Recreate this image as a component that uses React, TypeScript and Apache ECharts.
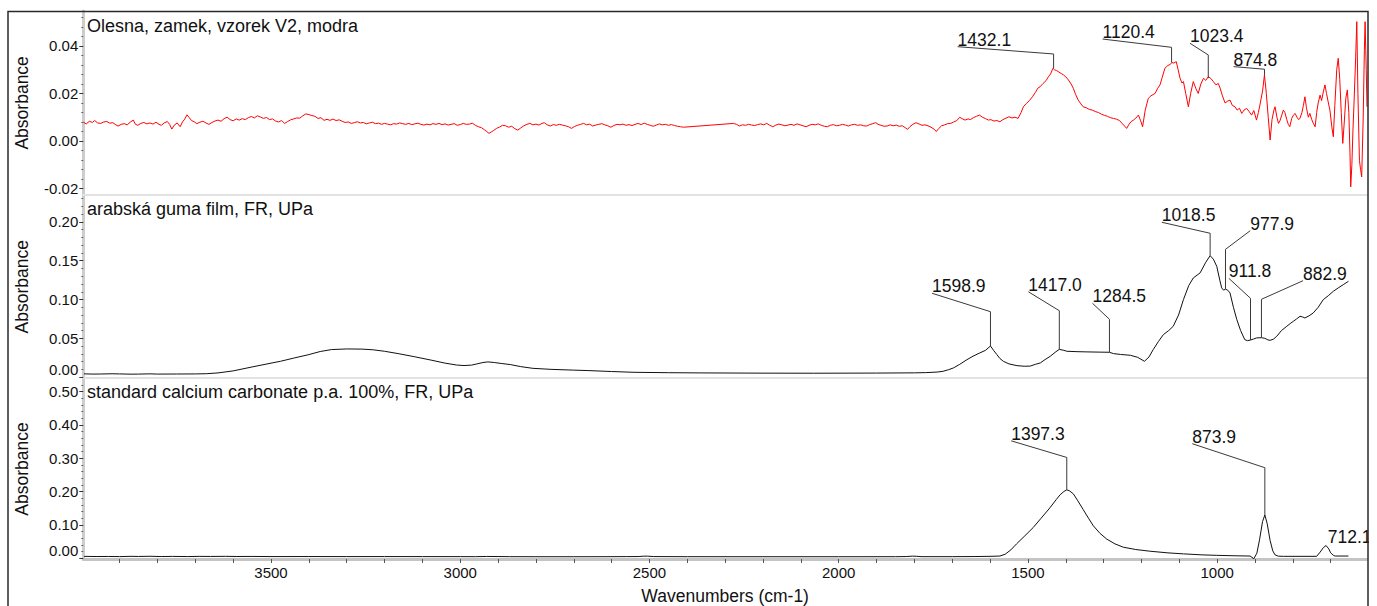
import React, { useEffect, useRef } from 'react';
import * as echarts from 'echarts';

const FONT = '"Liberation Sans", Arial, sans-serif';

const panelTitles = [
  'Olesna, zamek, vzorek V2, modra',
  'arabská guma film, FR, UPa',
  'standard calcium carbonate p.a. 100%, FR, UPa',
];
const yAxisName = 'Absorbance';
const xAxisName = 'Wavenumbers (cm-1)';

const xRange = [604, 3996];
const xLabelTicks = [1000, 1500, 2000, 2500, 3000, 3500];
const xAllTicks = [700, 800, 900, 1000, 1100, 1200, 1300, 1400, 1500, 1600, 1700, 1800, 1900, 2000, 2100, 2200, 2300, 2400, 2500, 2600, 2700, 2800, 2900, 3000, 3100, 3200, 3300, 3400, 3500, 3600, 3700, 3800, 3900];

const yTicks1 = [-0.02, 0, 0.02, 0.04];
const yTicks2 = [0, 0.05, 0.1, 0.15, 0.2];
const yTicks3 = [0, 0.1, 0.2, 0.3, 0.4, 0.5];
const yRange1 = [-0.0226, 0.0547];
const yRange2 = [-0.0005, 0.2334];
const yRange3 = [-0.0024, 0.5374];
const yMinorStep = [0.004, 0.01, 0.02];

// Sample spectrum (red) [wavenumber, absorbance]
const spectrumV2 = [
  [3996, 0.0079], [3988, 0.0072], [3980, 0.0083], [3972, 0.0078], [3966, 0.0086], [3958, 0.0076], [3950, 0.0074], [3942, 0.008], [3934, 0.0082], [3926, 0.0075],
  [3918, 0.0077], [3910, 0.0068], [3904, 0.0063], [3896, 0.007], [3888, 0.0073], [3880, 0.0068], [3872, 0.0079], [3864, 0.0088], [3858, 0.007], [3852, 0.0066],
  [3844, 0.0074], [3836, 0.0078], [3828, 0.0072], [3820, 0.0076], [3812, 0.0071], [3804, 0.0079], [3796, 0.007], [3790, 0.0066], [3782, 0.0076], [3774, 0.0082],
  [3768, 0.007], [3762, 0.005], [3756, 0.0066], [3748, 0.0076], [3740, 0.006], [3734, 0.008], [3728, 0.0092], [3722, 0.011], [3716, 0.0098], [3710, 0.0086],
  [3702, 0.008], [3696, 0.0073], [3688, 0.0079], [3680, 0.0083], [3672, 0.0076], [3664, 0.007], [3656, 0.0078], [3648, 0.0084], [3640, 0.0088], [3632, 0.0083],
  [3624, 0.0094], [3616, 0.01], [3608, 0.009], [3600, 0.0085], [3592, 0.0093], [3584, 0.0088], [3576, 0.0094], [3568, 0.009], [3560, 0.0098], [3552, 0.0103],
  [3544, 0.0097], [3536, 0.0106], [3528, 0.0101], [3520, 0.0095], [3512, 0.0099], [3504, 0.009], [3496, 0.0093], [3488, 0.0084], [3480, 0.008], [3472, 0.0086],
  [3464, 0.0074], [3456, 0.0082], [3448, 0.0089], [3440, 0.0093], [3432, 0.0097], [3424, 0.0096], [3416, 0.0106], [3408, 0.0114], [3400, 0.0111], [3392, 0.0107],
  [3384, 0.0104], [3376, 0.0095], [3368, 0.0098], [3360, 0.0087], [3352, 0.0091], [3344, 0.0087], [3336, 0.0092], [3328, 0.0086], [3320, 0.0089], [3312, 0.0083],
  [3304, 0.0078], [3296, 0.008], [3288, 0.0074], [3280, 0.0077], [3272, 0.0081], [3264, 0.0076], [3256, 0.0078], [3248, 0.0072], [3240, 0.0076], [3232, 0.0079],
  [3224, 0.0073], [3216, 0.0075], [3208, 0.007], [3200, 0.0074], [3192, 0.0071], [3184, 0.0068], [3176, 0.0073], [3168, 0.0071], [3160, 0.0076], [3152, 0.0073],
  [3144, 0.007], [3136, 0.0074], [3128, 0.0069], [3120, 0.0072], [3112, 0.0075], [3104, 0.007], [3096, 0.0067], [3088, 0.0071], [3080, 0.0068], [3072, 0.0073],
  [3064, 0.007], [3056, 0.0074], [3048, 0.0069], [3040, 0.0072], [3032, 0.0067], [3024, 0.007], [3016, 0.0073], [3008, 0.0066], [3000, 0.0069], [2992, 0.0074],
  [2984, 0.007], [2976, 0.0071], [2968, 0.0075], [2960, 0.0066], [2952, 0.006], [2944, 0.0056], [2936, 0.0047], [2930, 0.004], [2924, 0.0032], [2918, 0.0038],
  [2912, 0.0044], [2904, 0.0053], [2896, 0.0059], [2888, 0.0066], [2880, 0.0064], [2872, 0.0058], [2864, 0.0062], [2856, 0.0052], [2848, 0.0046], [2840, 0.0055],
  [2832, 0.0064], [2824, 0.007], [2816, 0.0074], [2808, 0.0068], [2800, 0.0071], [2792, 0.0067], [2784, 0.0074], [2778, 0.0077], [2770, 0.0068], [2762, 0.0063],
  [2754, 0.0069], [2746, 0.0066], [2738, 0.007], [2730, 0.0067], [2722, 0.0064], [2714, 0.006], [2706, 0.0053], [2698, 0.0061], [2690, 0.0066], [2682, 0.007],
  [2674, 0.0074], [2666, 0.0068], [2658, 0.0071], [2650, 0.0063], [2642, 0.0067], [2634, 0.007], [2626, 0.0073], [2618, 0.0068], [2610, 0.0064], [2602, 0.0058],
  [2594, 0.0065], [2586, 0.007], [2578, 0.0068], [2570, 0.0071], [2562, 0.0066], [2554, 0.0069], [2546, 0.0065], [2538, 0.007], [2530, 0.0074], [2522, 0.0069],
  [2514, 0.0075], [2506, 0.007], [2498, 0.0066], [2490, 0.0062], [2482, 0.0067], [2474, 0.0072], [2466, 0.0068], [2458, 0.007], [2450, 0.0066], [2442, 0.0069],
  [2434, 0.0065], [2426, 0.0062], [2418, 0.006], [2410, 0.0058], [2278, 0.0074], [2270, 0.007], [2262, 0.0063], [2254, 0.0068], [2246, 0.0066], [2238, 0.007],
  [2230, 0.0067], [2222, 0.0065], [2214, 0.0069], [2206, 0.0072], [2198, 0.0068], [2190, 0.0074], [2182, 0.0066], [2174, 0.006], [2166, 0.0067], [2158, 0.0071],
  [2150, 0.0068], [2142, 0.0064], [2134, 0.0067], [2126, 0.007], [2118, 0.0066], [2110, 0.0072], [2102, 0.0068], [2094, 0.0064], [2086, 0.006], [2078, 0.0066],
  [2070, 0.007], [2062, 0.0068], [2054, 0.0072], [2046, 0.0066], [2038, 0.0062], [2030, 0.006], [2022, 0.0066], [2014, 0.0069], [2006, 0.0064], [1998, 0.0066],
  [1990, 0.007], [1982, 0.0067], [1974, 0.0063], [1966, 0.0068], [1958, 0.007], [1950, 0.0066], [1942, 0.0068], [1934, 0.0064], [1926, 0.0063], [1918, 0.0069],
  [1910, 0.0073], [1902, 0.0077], [1896, 0.007], [1888, 0.0066], [1880, 0.0062], [1872, 0.0063], [1864, 0.0068], [1856, 0.0064], [1848, 0.0067], [1840, 0.0062],
  [1832, 0.0064], [1824, 0.0056], [1818, 0.0049], [1812, 0.006], [1804, 0.007], [1796, 0.0077], [1788, 0.0072], [1780, 0.0066], [1772, 0.0068], [1764, 0.0064],
  [1756, 0.0058], [1748, 0.005], [1742, 0.004], [1736, 0.0052], [1728, 0.0064], [1720, 0.0068], [1712, 0.0073], [1704, 0.0074], [1696, 0.008], [1688, 0.0086],
  [1680, 0.01], [1674, 0.0094], [1666, 0.0088], [1658, 0.0093], [1652, 0.009], [1644, 0.0098], [1636, 0.0104], [1628, 0.0109], [1620, 0.01], [1612, 0.0094],
  [1604, 0.0088], [1598, 0.009], [1590, 0.0084], [1582, 0.0086], [1574, 0.0081], [1566, 0.009], [1558, 0.0096], [1550, 0.0102], [1542, 0.0097], [1534, 0.01],
  [1526, 0.0095], [1518, 0.012], [1512, 0.0144], [1504, 0.0158], [1496, 0.017], [1488, 0.0186], [1480, 0.0205], [1474, 0.0222], [1468, 0.0228], [1460, 0.0242],
  [1452, 0.0254], [1446, 0.027], [1440, 0.0282], [1434, 0.0306], [1430, 0.03], [1424, 0.0296], [1418, 0.029], [1412, 0.0284], [1406, 0.0278], [1400, 0.027],
  [1393, 0.0257], [1386, 0.024], [1380, 0.0222], [1374, 0.0196], [1367, 0.0172], [1360, 0.0156], [1354, 0.0144], [1346, 0.014], [1338, 0.0133], [1330, 0.013],
  [1322, 0.0124], [1314, 0.012], [1306, 0.0113], [1298, 0.0108], [1290, 0.0104], [1282, 0.0098], [1274, 0.0095], [1266, 0.0092], [1258, 0.0086], [1250, 0.0072],
  [1244, 0.0062], [1239, 0.0053], [1233, 0.007], [1227, 0.0082], [1221, 0.0088], [1215, 0.0096], [1208, 0.0109], [1202, 0.0085], [1197, 0.006], [1190, 0.013],
  [1182, 0.0179], [1175, 0.019], [1164, 0.02], [1157, 0.0222], [1151, 0.0236], [1145, 0.0268], [1138, 0.0306], [1130, 0.0318], [1124, 0.0322], [1120, 0.033],
  [1114, 0.0328], [1108, 0.0334], [1103, 0.03], [1098, 0.0264], [1093, 0.0244], [1089, 0.025], [1083, 0.02], [1076, 0.0144], [1070, 0.02], [1063, 0.025],
  [1056, 0.022], [1050, 0.02], [1043, 0.024], [1036, 0.0264], [1030, 0.0255], [1023, 0.0271], [1016, 0.0262], [1010, 0.025], [1003, 0.0236], [997, 0.0242],
  [992, 0.0222], [986, 0.019], [979, 0.016], [972, 0.0168], [966, 0.0172], [960, 0.015], [953, 0.0144], [947, 0.013], [941, 0.0138], [935, 0.0116],
  [929, 0.013], [922, 0.0137], [916, 0.0125], [909, 0.0109], [903, 0.0128], [896, 0.0088], [891, 0.012], [887, 0.0151], [880, 0.021], [875, 0.0278],
  [870, 0.02], [865, 0.01], [860, 0.0004], [855, 0.009], [850, 0.013], [847, 0.0144], [842, 0.01], [838, 0.0074], [834, 0.0085], [829, 0.011],
  [825, 0.013], [821, 0.012], [816, 0.009], [812, 0.007], [808, 0.006], [803, 0.0095], [798, 0.011], [794, 0.0116], [789, 0.01], [785, 0.009],
  [781, 0.0095], [776, 0.012], [772, 0.015], [768, 0.0186], [764, 0.014], [759, 0.01], [755, 0.0116], [750, 0.009], [746, 0.0075], [741, 0.006],
  [737, 0.012], [733, 0.016], [728, 0.0193], [724, 0.017], [719, 0.021], [715, 0.0236], [711, 0.02], [706, 0.016], [702, 0.013], [697, 0.006],
  [693, 0.0018], [689, 0.015], [684, 0.03], [680, 0.0348], [676, 0.026], [672, 0.012], [668, -0.001], [664, 0.008], [660, 0.018], [656, 0.0215],
  [652, 0.012], [649, -0.005], [647, -0.0193], [644, -0.01], [641, 0.005], [638, 0.0172], [634, 0.035], [631, 0.0502], [628, 0.02], [624, -0.0081],
  [621, -0.012], [618, -0.0151], [614, 0.01], [611, 0.038], [609, 0.0502], [606, 0.03], [604, 0.0144],
];

// Gum arabic film (black)
const spectrumGum = [
  [3994, 0.0042], [3970, 0.0039], [3950, 0.004], [3920, 0.0043], [3900, 0.0041], [3870, 0.0038], [3850, 0.0039], [3820, 0.0042], [3800, 0.0039], [3750, 0.004],
  [3700, 0.0041], [3670, 0.0044], [3640, 0.0054], [3600, 0.008], [3550, 0.0131], [3500, 0.018], [3475, 0.0204], [3440, 0.0245], [3400, 0.029], [3370, 0.033],
  [3340, 0.0355], [3300, 0.0363], [3260, 0.0361], [3230, 0.0352], [3200, 0.0333], [3164, 0.0303], [3120, 0.0262], [3075, 0.0217], [3040, 0.018], [3010, 0.0156],
  [2990, 0.0149], [2970, 0.0155], [2956, 0.017], [2940, 0.0188], [2927, 0.0196], [2910, 0.0188], [2890, 0.0175], [2867, 0.0161], [2840, 0.0135], [2808, 0.0113],
  [2760, 0.01], [2700, 0.009], [2660, 0.0084], [2600, 0.0072], [2541, 0.0062], [2450, 0.0057], [2364, 0.0054], [2200, 0.0051], [2067, 0.005], [1900, 0.0052],
  [1800, 0.0055], [1770, 0.0058], [1740, 0.0065], [1724, 0.0075], [1710, 0.0095], [1697, 0.0118], [1680, 0.0165], [1661, 0.0225], [1645, 0.027], [1627, 0.0312],
  [1612, 0.0345], [1598.9, 0.0401], [1590, 0.034], [1582, 0.029], [1574, 0.024], [1565, 0.0204], [1550, 0.017], [1529, 0.0148], [1510, 0.014], [1494, 0.0142],
  [1480, 0.0165], [1467, 0.0183], [1455, 0.0225], [1441, 0.0268], [1428, 0.032], [1417, 0.0358], [1405, 0.0345], [1397, 0.0333], [1370, 0.0328], [1344, 0.0325],
  [1310, 0.0322], [1284.5, 0.032], [1274, 0.0303], [1255, 0.0292], [1229, 0.0281], [1210, 0.0255], [1192, 0.0204], [1180, 0.026], [1169, 0.0354], [1155, 0.046],
  [1142, 0.0548], [1128, 0.06], [1116, 0.0655], [1102, 0.08], [1089, 0.0999], [1075, 0.118], [1063, 0.1278], [1045, 0.1343], [1030, 0.148], [1018.5, 0.1565],
  [1010, 0.152], [1001, 0.1428], [993, 0.125], [988, 0.115], [983, 0.112], [977.9, 0.1135], [972, 0.112], [966, 0.1085], [957, 0.09], [948, 0.0741],
  [938, 0.06], [927, 0.0483], [920, 0.047], [911.8, 0.0478], [904, 0.049], [896, 0.0505], [882.9, 0.0508], [874, 0.05], [866, 0.048], [860, 0.0474],
  [851, 0.049], [842.5, 0.0526], [830, 0.06], [816, 0.0655], [807, 0.069], [798.7, 0.0719], [790, 0.075], [781, 0.0784], [774, 0.0775], [768, 0.0762],
  [757, 0.079], [746, 0.0827], [733, 0.09], [719.4, 0.0999], [706, 0.105], [693, 0.1106], [680, 0.115], [666.5, 0.1192], [653, 0.1235],
];

// Calcium carbonate standard (black)
const spectrumCaCO3 = [
  [3994, 0.0055], [3960, 0.005], [3930, 0.0052], [3900, 0.0048], [3870, 0.0056], [3850, 0.0052], [3820, 0.0058], [3790, 0.005], [3760, 0.0054], [3720, 0.0049],
  [3690, 0.0055], [3660, 0.0052], [3620, 0.0056], [3590, 0.0051], [3550, 0.0053], [3500, 0.0049], [3400, 0.005], [3300, 0.0048], [3200, 0.0049], [3100, 0.0048],
  [3000, 0.0047], [2960, 0.0046], [2930, 0.0052], [2900, 0.005], [2870, 0.0046], [2800, 0.0044], [2700, 0.0044], [2620, 0.0045], [2560, 0.0048], [2530, 0.005],
  [2515, 0.006], [2505, 0.0062], [2490, 0.0049], [2400, 0.0045], [2200, 0.0044], [2000, 0.0044], [1850, 0.0045], [1820, 0.005], [1805, 0.0062], [1795, 0.0058],
  [1780, 0.0046], [1700, 0.0046], [1640, 0.005], [1600, 0.0056], [1574, 0.0065], [1560, 0.012], [1545, 0.025], [1530, 0.043], [1510, 0.065], [1486, 0.092],
  [1465, 0.12], [1442, 0.151], [1425, 0.176], [1415, 0.19], [1405, 0.2], [1397.3, 0.205], [1390, 0.202], [1380, 0.193], [1368, 0.172], [1354, 0.146],
  [1340, 0.12], [1327, 0.097], [1310, 0.075], [1292, 0.0575], [1270, 0.043], [1248, 0.033], [1215, 0.026], [1178, 0.021], [1130, 0.016], [1089, 0.013],
  [1040, 0.01], [1001, 0.0086], [950, 0.0072], [913, 0.0065], [903, -0.0015], [895, 0.015], [888, 0.055], [880, 0.11], [873.9, 0.1295], [868, 0.105],
  [860, 0.053], [853, 0.022], [847, 0.01], [838, 0.006], [825, 0.0056], [737, 0.0056], [728, 0.018], [719, 0.032], [712.1, 0.038], [705, 0.028],
  [700, 0.016], [692, 0.008], [688, 0.0065], [653, 0.0065],
];

// Peak annotations [wavenumber, absorbance at peak]
const peaksV2 = [[1432.1, 0.0306], [1120.4, 0.0331], [1023.4, 0.0264], [874.8, 0.0278]];
const peaksGum = [[1598.9, 0.0401], [1417.0, 0.0358], [1284.5, 0.032], [1018.5, 0.1565], [977.9, 0.1135], [911.8, 0.0478], [882.9, 0.0508]];
const peaksCaCO3 = [[1397.3, 0.205], [873.9, 0.1295], [712.1, 0.038]];

// Leader layout in px relative to the peak: [vertical rise, label end dx, label end dy]
const LEADERS = [
  [[-14.3, -96, -21.6], [-15, -69, -23.3], [-23.3, -18.3, -35], [-5.7, -31, -8.3]],
  [[-34.3, -58.4, -52.7], [-38.6, -31, -57.6], [-33, -17, -49], [-22.4, -48.3, -33.4], [-39.7, 24.7, -58.3], [-41.7, -21.7, -61.7], [-38.4, 41.6, -57]],
  [[-32.4, -55.6, -49], [-47.3, -72.6, -71.3], [0, 1.7, -2]],
];

const GRIDS = [
  { left: 83.3, right: 10, top: 11, height: 183.7 },
  { left: 83.3, right: 10, top: 196, height: 181.5 },
  { left: 83.3, right: 10, top: 379, height: 183 },
];
const TITLE_Y = [25.5, 209.3, 392.3];

function minorTicks(range: number[], step: number, majors: number[]) {
  const out: number[] = [];
  const start = Math.ceil(range[0] / step - 1e-9);
  const end = Math.floor(range[1] / step + 1e-9);
  for (let k = start; k <= end; k++) {
    const v = +(k * step).toFixed(5);
    if (!majors.some((m) => Math.abs(m - v) < 1e-9)) out.push(v);
  }
  return out;
}

export default function App() {
  const ref = useRef<HTMLDivElement>(null);
  useEffect(() => {
    if (!ref.current) return;
    const chart = echarts.init(ref.current, null, { renderer: 'svg' });
    const spectra = [spectrumV2, spectrumGum, spectrumCaCO3];
    const colors = ['#ff0000', '#111111', '#111111'];
    const yTicks = [yTicks1, yTicks2, yTicks3];
    const yRanges = [yRange1, yRange2, yRange3];
    const peaks = [peaksV2, peaksGum, peaksCaCO3];

    const xAxis = [0, 1, 2].map((i) => ({
      type: 'value',
      gridIndex: i,
      min: xRange[0],
      max: xRange[1],
      inverse: true,
      axisLine: {
        show: true,
        onZero: false,
        lineStyle: i < 2 ? { color: '#e2e2e2', width: 2 } : { color: '#c4c4c4', width: 3 },
      },
      axisTick: i < 2 ? { show: false } : { show: true, length: 4, customValues: xAllTicks, lineStyle: { color: '#555' } },
      axisLabel: i < 2
        ? { show: false }
        : { show: true, customValues: xLabelTicks, formatter: (v: number) => String(Math.round(v)), fontSize: 15, color: '#111', margin: 6, fontFamily: FONT },
      splitLine: { show: false },
      name: i === 2 ? xAxisName : '',
      nameLocation: 'middle',
      nameGap: 28,
      nameTextStyle: { fontSize: 17.5, color: '#111', fontFamily: FONT },
    }));

    const mainY = [0, 1, 2].map((i) => ({
      type: 'value',
      gridIndex: i,
      position: 'left',
      min: yRanges[i][0],
      max: yRanges[i][1],
      axisLine: { show: true, onZero: false, lineStyle: { color: '#cdcdcd', width: 3 } },
      axisTick: { show: true, length: 4, customValues: yTicks[i], lineStyle: { color: '#333' } },
      axisLabel: {
        show: true,
        customValues: yTicks[i],
        formatter: (v: number) => v.toFixed(2),
        fontSize: 15,
        color: '#111',
        fontFamily: FONT,
        margin: 5,
        verticalAlignMinLabel: i > 0 ? 'bottom' : undefined,
      },
      splitLine: { show: false },
      name: yAxisName,
      nameLocation: 'middle',
      nameGap: 52,
      nameTextStyle: { fontSize: 17.5, color: '#111', fontFamily: FONT },
    }));
    const minorY = [0, 1, 2].map((i) => ({
      type: 'value',
      gridIndex: i,
      position: 'left',
      min: yRanges[i][0],
      max: yRanges[i][1],
      axisLine: { show: false, onZero: false },
      axisTick: { show: true, length: 2, customValues: minorTicks(yRanges[i], yMinorStep[i], yTicks[i]), lineStyle: { color: '#666' } },
      axisLabel: { show: false },
      splitLine: { show: false },
    }));

    const lineSeries = spectra.map((data, i) => ({
      type: 'line',
      xAxisIndex: i,
      yAxisIndex: i,
      data,
      showSymbol: false,
      symbol: 'none',
      silent: true,
      clip: true,
      lineStyle: { color: colors[i], width: 1 },
    }));

    const annSeries = peaks.map((pk, i) => ({
      type: 'custom',
      xAxisIndex: i,
      yAxisIndex: i,
      silent: true,
      z: 5,
      data: pk,
      renderItem: (params: any, api: any) => {
        const idx = params.dataIndex;
        const p = api.coord([api.value(0), api.value(1)]);
        const L = LEADERS[i][idx];
        const top = [p[0], p[1] + L[0]];
        const end = [p[0] + L[1], p[1] + L[2]];
        const children: any[] = [];
        if (L[0] !== 0) {
          children.push({
            type: 'polyline',
            shape: { points: [p, top, end] },
            style: { stroke: '#3a3a3a', lineWidth: 1, fill: null },
          });
        }
        children.push({
          type: 'text',
          x: end[0],
          y: end[1] - 7,
          style: {
            text: Number(pk[idx][0]).toFixed(1),
            fill: '#111',
            font: '17.5px ' + FONT,
            align: 'left',
            verticalAlign: 'middle',
          },
        });
        return { type: 'group', children };
      },
    }));

    const graphic: any[] = [
      { type: 'rect', silent: true, z: 99, shape: { x: 1369, y: 0, width: 12, height: 606 }, style: { fill: '#ffffff' } },
      { type: 'rect', silent: true, z: 100, shape: { x: 8, y: 11.5, width: 1360, height: 640 }, style: { fill: 'none', stroke: '#2a2a2a', lineWidth: 1.5 } },
      ...panelTitles.map((t, i) => ({
        type: 'text',
        silent: true,
        z: 50,
        x: 87,
        y: TITLE_Y[i],
        style: { text: t, fill: '#111', font: '18px ' + FONT, align: 'left', verticalAlign: 'middle' },
      })),
    ];

    chart.setOption({
      animation: false,
      backgroundColor: '#ffffff',
      grid: GRIDS.map((g) => ({ ...g, containLabel: false })),
      xAxis,
      yAxis: [...mainY, ...minorY],
      series: [...lineSeries, ...annSeries],
      graphic,
    } as any);
    return () => chart.dispose();
  }, []);
  return <div ref={ref} style={{ position: 'absolute', left: 0, top: 0, width: 1377, height: 606 }} />;
}
